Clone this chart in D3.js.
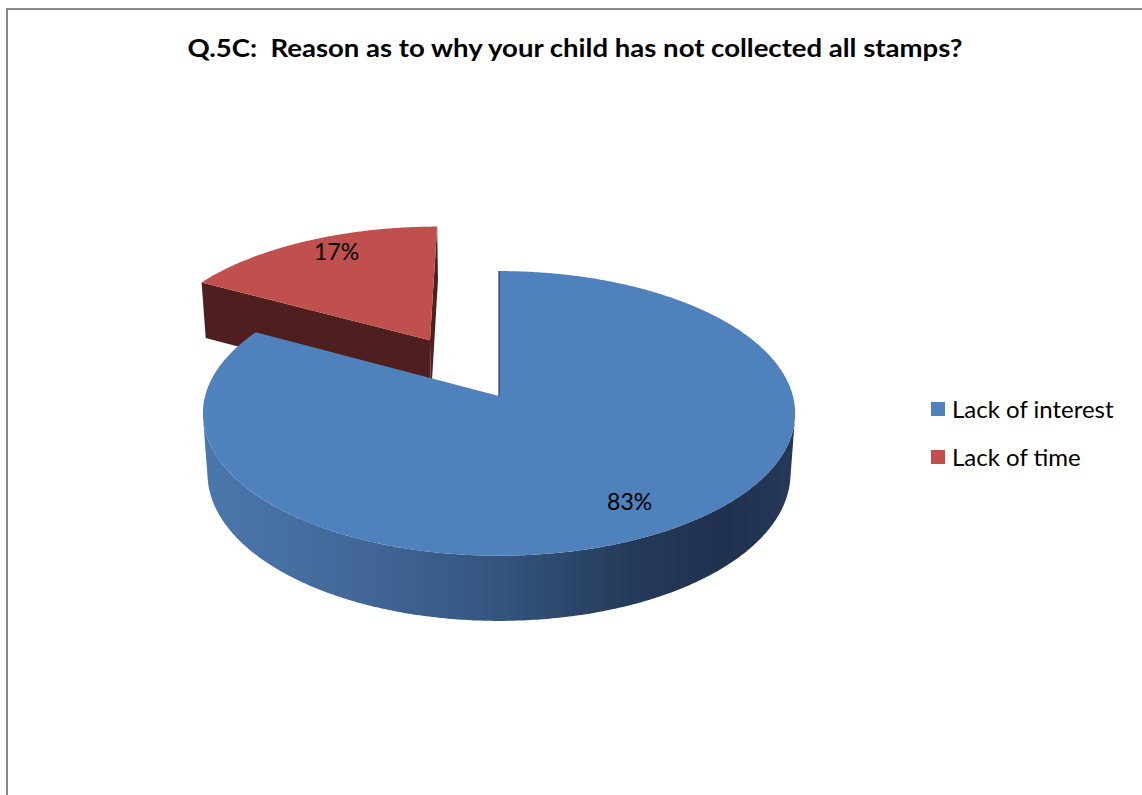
<!DOCTYPE html>
<html>
<head>
<meta charset="utf-8">
<script src="https://cdn.jsdelivr.net/npm/d3@7"></script>
<style>
  html, body { margin: 0; padding: 0; background: #ffffff; }
  svg { display: block; }
  text { font-family: Lato, "Open Sans", sans-serif; fill: #000; }
</style>
</head>
<body>
<svg id="chart" width="1142" height="795"></svg>
<script>
// Survey answers
const title = "Q.5C:  Reason as to why your child has not collected all stamps?";
const categories = ["Lack of interest", "Lack of time"];
const values = [83, 17];
const valueLabels = ["83%", "17%"];
const exploded = [false, true];

// Slice colours: top face, cut faces
const topColors = ["#4f81bd", "#c0504d"];
const cutColors = ["#27406a", "#4f1f1f"];

const W = 1142, H = 795;
const svg = d3.select("#chart");

// Chart frame
svg.append("rect")
  .attr("x", 7).attr("y", 9).attr("width", W + 20).attr("height", H + 20)
  .attr("fill", "#fff").attr("stroke", "#8a8a8a").attr("stroke-width", 2);

// Perspective camera for the tilted 3D pie (unit radius disc)
const cam = {
  cx: 499, cy: 396,          // projected pie centre
  f: 2113,                   // focal length
  d: 7.19,                   // camera distance
  tilt: 28.5 * Math.PI / 180,
  depth: 0.235,              // slab thickness
  explode: 0.485
};
const sA = Math.sin(cam.tilt), cA = Math.cos(cam.tilt);

function project(X, Y, Z) {
  const ys = Y * cA - Z * sA;
  const dist = cam.d - Y * sA - Z * cA;
  return [cam.cx + cam.f * X / dist, cam.cy - cam.f * ys / dist];
}
// Point on the disc at pie angle a (clockwise from 12 o'clock)
function disc(a, r, y, off) {
  return project(off[0] + r * Math.sin(a), y, off[1] - r * Math.cos(a));
}

const pie = d3.pie().sort(null).value(d => d)(values);
const line = d3.line();

const slices = pie.map((p, i) => {
  const mid = (p.startAngle + p.endAngle) / 2;
  const e = exploded[i] ? cam.explode : 0;
  return {
    i, p, mid,
    off: [e * Math.sin(mid), -e * Math.cos(mid)]
  };
});

function arcPoints(a0, a1, r, y, off) {
  const n = Math.max(4, Math.ceil(Math.abs(a1 - a0) / 0.01));
  return d3.range(n + 1).map(k => disc(a0 + (a1 - a0) * k / n, r, y, off));
}

function cutFace(s, a) {
  const h = -cam.depth;
  return line([
    disc(a, 0, 0, s.off), disc(a, 1, 0, s.off),
    disc(a, 1, h, s.off), disc(a, 0, h, s.off)
  ]) + "Z";
}

function topFace(s) {
  return line([disc(0, 0, 0, s.off)]
    .concat(arcPoints(s.p.startAngle, s.p.endAngle, 1, 0, s.off))) + "Z";
}

// Visible range of the outer wall (silhouette of the cylinder)
const sil = Math.acos(-1 / (cam.d * cA));

const defs = svg.append("defs");
const grad = defs.append("linearGradient")
  .attr("id", "wallBlue")
  .attr("gradientUnits", "userSpaceOnUse")
  .attr("x1", 204).attr("x2", 796).attr("y1", 0).attr("y2", 0);
[[0, "#4b77ad"], [0.25, "#426899"], [0.5, "#34547e"], [0.72, "#253b5b"],
 [0.88, "#1f314d"], [1, "#26395a"]].forEach(([o, c]) =>
  grad.append("stop").attr("offset", o).attr("stop-color", c));

const g = svg.append("g");

// Back slice (exploded) first, then the front slice
const red = slices[1], blue = slices[0];

g.append("path").attr("d", cutFace(red, red.p.endAngle)).attr("fill", cutColors[1]);
g.append("path").attr("d", cutFace(red, red.p.startAngle)).attr("fill", cutColors[1]);
g.append("path").attr("d", topFace(red)).attr("fill", topColors[1]);

// Blue outer wall
const a0 = Math.max(blue.p.startAngle, sil), a1 = Math.min(blue.p.endAngle, 2 * Math.PI - sil);
const wall = arcPoints(a0, a1, 1, 0, blue.off)
  .concat(arcPoints(a1, a0, 1, -cam.depth, blue.off));
g.append("path").attr("d", line(wall) + "Z").attr("fill", "url(#wallBlue)");
g.append("path").attr("d", topFace(blue)).attr("fill", topColors[0]);
// thin edge where the blue cut face is seen edge-on
g.append("path")
  .attr("d", line([disc(0, 0, 0, blue.off), disc(0, 1, 0, blue.off)]))
  .attr("stroke", "#2a3f5c").attr("stroke-width", 1.2).attr("fill", "none");

// Value labels
const labelR = [0.8, 0.74];
const labelNudge = [0, -14];
slices.forEach(s => {
  const [x, y] = disc(s.mid, labelR[s.i], 0, s.off);
  svg.append("text")
    .attr("x", x).attr("y", y + labelNudge[s.i])
    .attr("text-anchor", "middle").attr("dominant-baseline", "central")
    .style("font-size", "23px")
    .text(valueLabels[s.i]);
});

// Title
svg.append("text")
  .attr("x", 575).attr("y", 57)
  .attr("text-anchor", "middle")
  .attr("textLength", 775).attr("lengthAdjust", "spacingAndGlyphs")
  .style("font-size", "24px").style("font-weight", "bold")
  .style("white-space", "pre")
  .text(title);

// Legend
const legend = svg.append("g").attr("transform", "translate(931,402)");
categories.forEach((c, i) => {
  const row = legend.append("g").attr("transform", `translate(0,${i * 48})`);
  row.append("rect").attr("width", 14).attr("height", 14).attr("fill", topColors[i]);
  row.append("text").attr("x", 21).attr("y", 16)
    .style("font-size", "24px").text(c);
});
</script>
</body>
</html>
